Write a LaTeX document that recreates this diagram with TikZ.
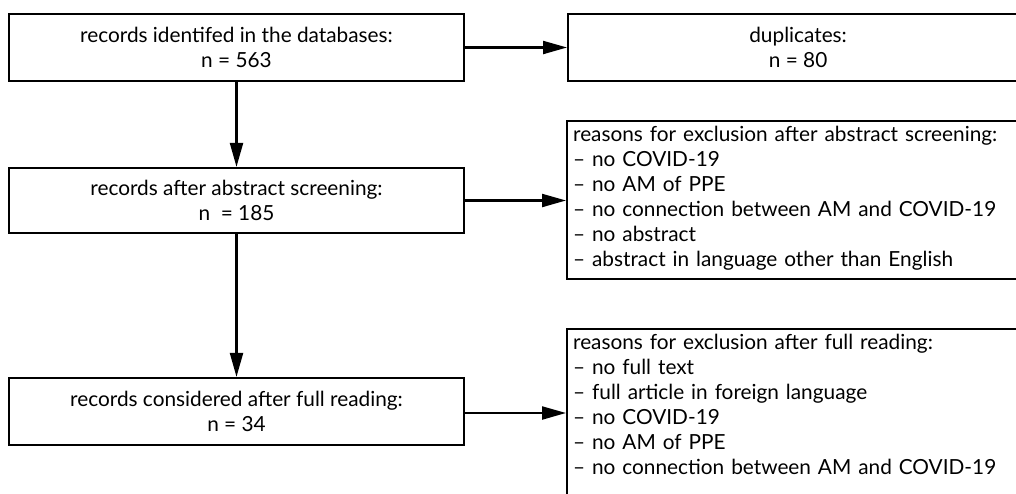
\documentclass[tikz,border=0pt]{standalone}
\usepackage{fontspec}
\setmainfont{Lato}
\usetikzlibrary{arrows.meta}

\begin{document}
\begin{tikzpicture}[x=1pt, y=-1pt,
  txt/.style={font=\fontsize{20.8}{25}\selectfont},
  stagebox/.style={draw, txt, line width=2.2pt, minimum width=455pt, minimum height=67pt, inner sep=0pt, align=center},
  reasonbox/.style={draw, txt, line width=2.2pt, anchor=north west, text width=450pt, align=left,
    inner xsep=6pt, inner ysep=5pt, text height=15pt},
  flow/.style={line width=2.2pt, -{Triangle[length=24pt,width=13pt]}}]
\useasboundingbox (0,0) rectangle (1016,493);
\clip (0,0) rectangle (1016,493);

% left column
\node[stagebox] (ident) at (236.5,47.5) {records identifed in the databases:\\ n = 563};
\node[stagebox, minimum height=65pt] (abstr) at (236.5,200.5) {records after abstract screening:\\ n \ = 185};
\node[stagebox] (full) at (236.5,411.5) {records considered after full reading:\\ n = 34};

% right column
\node[stagebox, minimum width=460pt, anchor=west] (dupl) at (567,47.5) {duplicates:\\ n = 80};
\node[reasonbox, text depth=133pt] (exclA) at (566,120) {reasons for exclusion after abstract screening:\\
  -- no COVID-19\\
  -- no AM of PPE\\
  -- no connection between AM and COVID-19\\
  -- no abstract\\
  -- abstract in language other than English};
\node[reasonbox, text depth=200pt] (exclB) at (566,328) {reasons for exclusion after full reading:\\
  -- no full text\\
  -- full article in foreign language\\
  -- no COVID-19\\
  -- no AM of PPE\\
  -- no connection between AM and COVID-19};

% arrows
\draw[flow] (ident) -- (abstr);
\draw[flow] (abstr) -- (full);
\draw[flow] (ident.east) -- (dupl.west);
\draw[flow] (abstr.east) -- (abstr.east -| exclA.west);
\draw[flow] ([yshift=-1.5pt]full.east) -- ([yshift=-1.5pt]full.east -| exclB.west);
\end{tikzpicture}
\end{document}
